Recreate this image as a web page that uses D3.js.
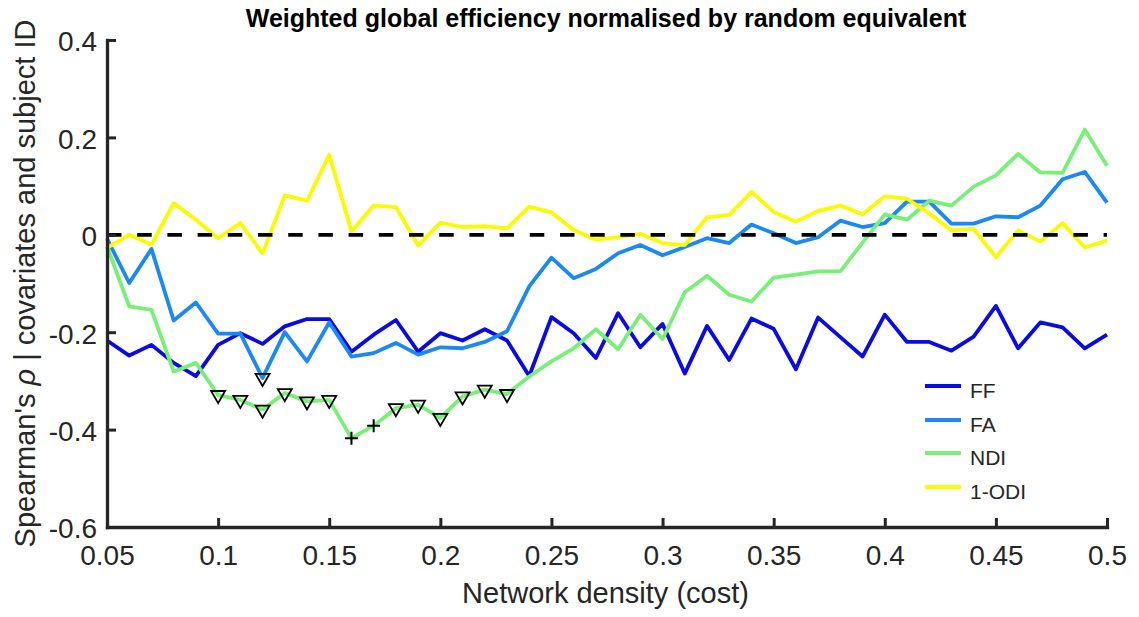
<!DOCTYPE html>
<html>
<head>
<meta charset="utf-8">
<script src="https://cdn.jsdelivr.net/npm/d3@7"></script>
<style>
  html, body { margin: 0; padding: 0; background: #fff; }
  svg { display: block; }
</style>
</head>
<body>
<svg id="chart" width="1139" height="617"></svg>
<script>
// Network density (cost) at which each measure was evaluated
const density = [0.05,0.06,0.07,0.08,0.09,0.10,0.11,0.12,0.13,0.14,0.15,0.16,0.17,0.18,0.19,0.20,
  0.21,0.22,0.23,0.24,0.25,0.26,0.27,0.28,0.29,0.30,0.31,0.32,0.33,0.34,0.35,0.36,0.37,0.38,0.39,0.40,
  0.41,0.42,0.43,0.44,0.45,0.46,0.47,0.48,0.49,0.50];

// Partial Spearman's rho per density
const rhoFF = [-0.217,-0.248,-0.226,-0.263,-0.290,-0.226,-0.202,-0.224,-0.188,-0.173,-0.173,-0.240,-0.205,-0.175,-0.240,-0.202,
  -0.217,-0.194,-0.217,-0.290,-0.169,-0.202,-0.253,-0.161,-0.231,-0.183,-0.285,-0.187,-0.257,-0.172,-0.193,-0.276,-0.170,-0.210,-0.250,-0.164,
  -0.220,-0.220,-0.238,-0.209,-0.146,-0.233,-0.180,-0.190,-0.233,-0.205];
const rhoFA = [-0.008,-0.099,-0.029,-0.176,-0.139,-0.203,-0.203,-0.294,-0.200,-0.260,-0.180,-0.250,-0.243,-0.222,-0.246,-0.231,
  -0.233,-0.220,-0.198,-0.106,-0.047,-0.089,-0.070,-0.038,-0.021,-0.042,-0.025,-0.007,-0.017,0.021,0.003,-0.017,-0.005,0.029,0.016,0.024,
  0.068,0.068,0.023,0.023,0.038,0.036,0.060,0.114,0.129,0.066];
const rhoNDI = [-0.024,-0.147,-0.154,-0.281,-0.263,-0.329,-0.339,-0.359,-0.325,-0.342,-0.339,-0.418,-0.392,-0.356,-0.349,-0.376,
  -0.332,-0.318,-0.327,-0.291,-0.260,-0.233,-0.194,-0.235,-0.164,-0.214,-0.118,-0.084,-0.123,-0.137,-0.088,-0.082,-0.075,-0.075,-0.016,0.042,
  0.031,0.070,0.060,0.099,0.122,0.166,0.128,0.127,0.216,0.142];
const rhoODI = [-0.027,0.000,-0.020,0.065,0.031,-0.007,0.024,-0.038,0.081,0.070,0.164,0.007,0.060,0.057,-0.022,0.025,
  0.016,0.018,0.013,0.058,0.046,0.010,-0.010,-0.005,0.002,-0.017,-0.021,0.036,0.041,0.088,0.047,0.027,0.049,0.060,0.042,0.079,
  0.074,0.044,0.009,0.012,-0.046,0.009,-0.014,0.024,-0.026,-0.012];

// Densities flagged as significant (triangles) and surviving correction (plus signs)
const ndiTriangleAt = [0.10,0.11,0.12,0.13,0.14,0.15,0.18,0.19,0.20,0.21,0.22,0.23];
const ndiPlusAt = [0.16,0.17];
const faTriangleAt = [0.12];

const seriesNames = ["FF","FA","NDI","1-ODI"];
const seriesValues = [rhoFF, rhoFA, rhoNDI, rhoODI];
const seriesColors = ["#0a0ae6","#1a88f5","#78f078","#fafa00"];

const xTicks = [0.05,0.1,0.15,0.2,0.25,0.3,0.35,0.4,0.45,0.5];
const xTickLabels = ["0.05","0.1","0.15","0.2","0.25","0.3","0.35","0.4","0.45","0.5"];
const yTicks = [-0.6,-0.4,-0.2,0,0.2,0.4];
const yTickLabels = ["-0.6","-0.4","-0.2","0","0.2","0.4"];

const svg = d3.select("#chart");
const font = "'Liberation Sans', Arial, Helvetica, sans-serif";
const axisColor = "#262626";

const x = d3.scaleLinear().domain([0.05, 0.5]).range([107, 1107]);
const y = d3.scaleLinear().domain([-0.6, 0.4]).range([527, 40]);

// Series lines
const line = d3.line()
  .x((d, i) => x(density[i]))
  .y(d => y(d));

const lines = svg.append("g");
seriesValues.forEach((vals, k) => {
  lines.append("path")
    .datum(vals)
    .attr("d", line)
    .attr("fill", "none")
    .attr("stroke", seriesColors[k])
    .attr("stroke-width", 3.8)
    .attr("stroke-linejoin", "round");
});

// Zero reference
svg.append("line")
  .attr("x1", x(0.05)).attr("x2", x(0.5))
  .attr("y1", y(0)).attr("y2", y(0))
  .attr("stroke", "#000")
  .attr("stroke-width", 3.8)
  .attr("stroke-dasharray", "14.5,15.7");

// Significance markers
const idx = v => density.findIndex(d => Math.abs(d - v) < 1e-9);
const tri = d3.symbol().type(d3.symbolTriangle).size(85);
const marks = svg.append("g");
function triangles(at, vals) {
  marks.selectAll(null)
    .data(at)
    .enter().append("path")
    .attr("d", tri)
    .attr("transform", d => `translate(${x(d)},${y(vals[idx(d)])}) rotate(180)`)
    .attr("fill", "none")
    .attr("stroke", "#000")
    .attr("stroke-width", 1.8);
}
triangles(ndiTriangleAt, rhoNDI);
triangles(faTriangleAt, rhoFA);
marks.selectAll(null)
  .data(ndiPlusAt)
  .enter().append("path")
  .attr("d", "M-6.5,0H6.5M0,-6.5V6.5")
  .attr("transform", d => `translate(${x(d)},${y(rhoNDI[idx(d)])})`)
  .attr("fill", "none")
  .attr("stroke", "#000")
  .attr("stroke-width", 2);

// Axes
const xAxis = d3.axisBottom(x)
  .tickValues(xTicks)
  .tickFormat((d, i) => xTickLabels[i])
  .tickSizeInner(-9).tickSizeOuter(0).tickPadding(18);
const yAxis = d3.axisLeft(y)
  .tickValues(yTicks)
  .tickFormat((d, i) => yTickLabels[i])
  .tickSizeInner(-9).tickSizeOuter(0).tickPadding(10);

const gx = svg.append("g").attr("transform", `translate(0,${y(-0.6)})`).call(xAxis);
const gy = svg.append("g").attr("transform", `translate(${x(0.05)},0)`).call(yAxis);
[gx, gy].forEach(g => {
  g.select(".domain").attr("stroke", axisColor).attr("stroke-width", 3.3).attr("stroke-linecap", "square");
  g.selectAll(".tick line").attr("stroke", axisColor).attr("stroke-width", 3);
  g.selectAll(".tick text")
    .attr("fill", axisColor)
    .style("font-family", font)
    .style("font-size", "28px");
});
gy.selectAll(".tick text").attr("dy", "0.39em");

// Titles
svg.append("text")
  .attr("x", 606).attr("y", 27)
  .attr("text-anchor", "middle")
  .style("font-family", font)
  .style("font-weight", "bold")
  .style("font-size", "25px")
  .attr("fill", "#000")
  .text("Weighted global efficiency normalised by random equivalent");

svg.append("text")
  .attr("x", 605.5).attr("y", 603)
  .attr("text-anchor", "middle")
  .style("font-family", font)
  .style("font-size", "29px")
  .attr("fill", axisColor)
  .text("Network density (cost)");

const yl = svg.append("text")
  .attr("transform", "translate(35,283.5) rotate(-90)")
  .attr("text-anchor", "middle")
  .style("font-family", font)
  .style("font-size", "29px")
  .attr("fill", axisColor);
yl.append("tspan").text("Spearman's ");
yl.append("tspan").style("font-style", "italic").text("ρ");
yl.append("tspan").text(" | covariates and subject ID");

// Legend
const legendY = [386, 420, 453, 487];
const legend = svg.append("g");
seriesNames.forEach((name, k) => {
  legend.append("line")
    .attr("x1", 925).attr("x2", 961)
    .attr("y1", legendY[k]).attr("y2", legendY[k])
    .attr("stroke", seriesColors[k])
    .attr("stroke-width", 3.8);
  legend.append("text")
    .attr("x", 970).attr("y", legendY[k] + 12)
    .style("font-family", font)
    .style("font-size", "21px")
    .attr("fill", axisColor)
    .text(name);
});
</script>
</body>
</html>
